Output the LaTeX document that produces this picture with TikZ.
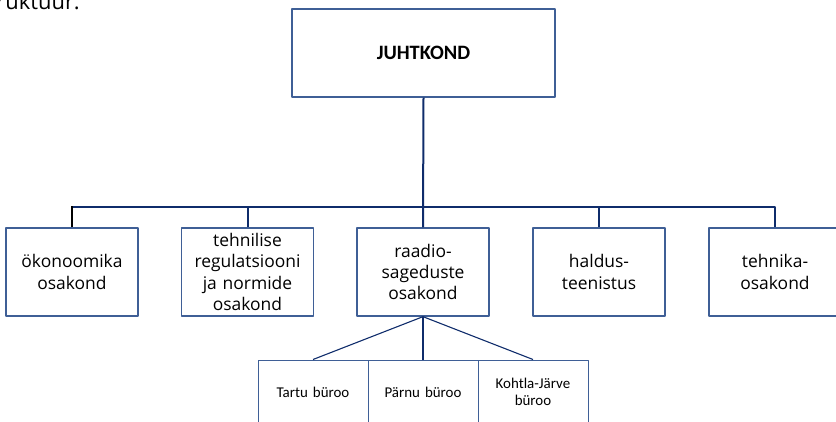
\documentclass[tikz,border=0pt]{standalone}
\usepackage{fontspec}
\setmainfont{Open Sans}
\newfontfamily\calfont{Carlito}
\definecolor{navy}{HTML}{0F2C6B}
\definecolor{boxblue}{HTML}{3F5F96}
\begin{document}
\begin{tikzpicture}[x=1bp, y=-1bp, line join=round,
	dept/.style={draw=boxblue, line width=1.3bp, minimum width=132bp, minimum height=88bp, inner sep=0pt, text width=130bp, align=center, font=\fontsize{17.5}{21.5}\selectfont},
	office/.style={draw=boxblue, line width=1bp, minimum width=110bp, minimum height=64bp, inner sep=0pt, text width=106bp, align=center, font=\calfont\fontsize{15}{16.5}\selectfont},
	link/.style={draw=navy, line width=2bp}]
	\useasboundingbox (0,0) rectangle (836,421);
	\node[anchor=base east, inner sep=0pt, font=\fontsize{22}{26}\selectfont] (caption) at (80,9) {struktuur:};
	\node[draw=boxblue, line width=1.3bp, minimum width=263bp, minimum height=88bp, font=\calfont\bfseries\fontsize{20.5}{24}\selectfont] (juht) at (423.5,53) {JUHTKOND};
	\node[dept] (okon) at (72,272) {ökonoomika\\osakond};
	\node[dept] (tehreg) at (247.5,272) {tehnilise\\regulatsiooni\\ja normide\\osakond};
	\node[dept] (raadio) at (423,272) {raadio-\\sageduste\\osakond};
	\node[dept] (haldus) at (599,272) {haldus-\\teenistus};
	\node[dept] (tehnika) at (775,272) {tehnika-\\osakond};
	\node[office] (tartu) at (313,392) {Tartu büroo};
	\node[office] (parnu) at (423,392) {Pärnu büroo};
	\node[office] (kohtla) at (533,392) {Kohtla-Järve\\büroo};
	\coordinate (bus) at (423,207);
	\draw[link] (juht.south) -- (raadio.north);
	\draw[link] (haldus.north) |- (bus) -| (tehnika.north);
	\draw[link] (tehreg.north) |- (bus);
	\draw[link] (bus) -| (okon.north);
	\draw[link, draw=black] (okon.north) -- ++(0,-21);
	\draw[link] (raadio.south) -- (parnu.north);
	\draw[navy, line width=1.1bp] (tartu.north) -- (raadio.south) -- (kohtla.north);
\end{tikzpicture}
\end{document}
